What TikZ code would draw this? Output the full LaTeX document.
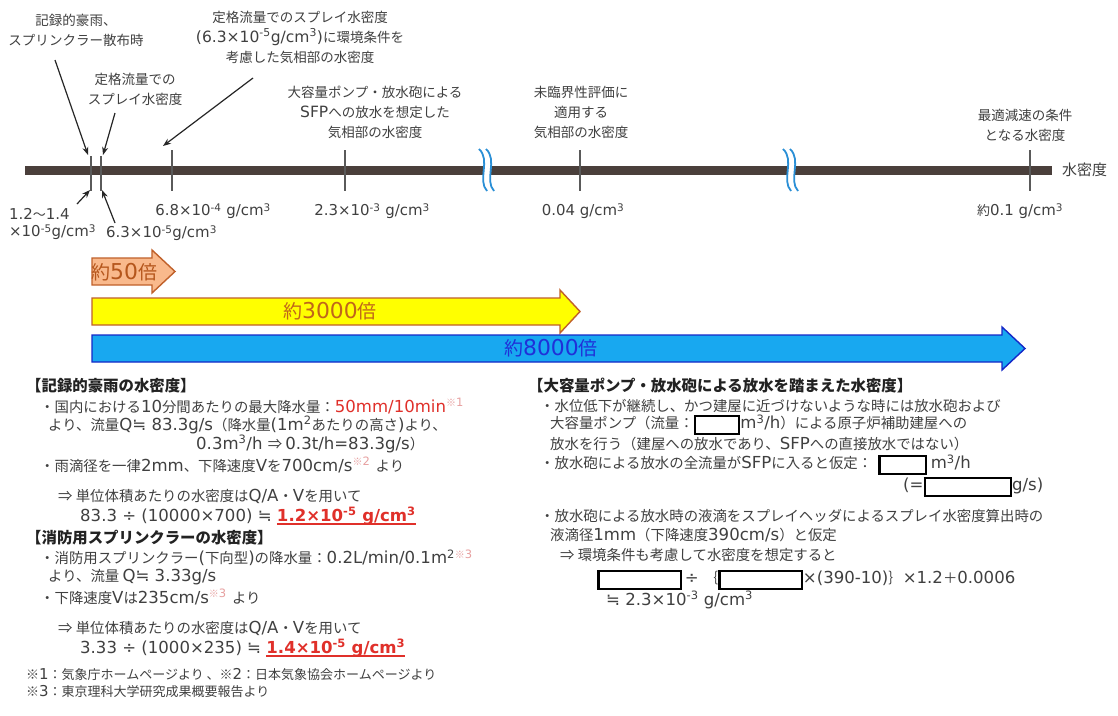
\documentclass[tikz,border=0pt]{standalone}
\usepackage{fontspec}
\setmainfont{DejaVu Sans}[Scale=1.15]
\newfontfamily\cjkfam{Noto Sans CJK JP}
\newfontfamily\latfam{DejaVu Sans}[Scale=1.15]
\usetikzlibrary{arrows.meta}
\XeTeXinterchartokenstate=1
\newXeTeXintercharclass\CJKcls
\newcount\cjkc
\def\setcjkrange#1#2{\cjkc=#1\relax\loop\XeTeXcharclass\cjkc=\CJKcls\advance\cjkc by 1\relax\ifnum\cjkc<#2\relax\repeat}
\setcjkrange{"3000}{"3100}
\setcjkrange{"4E00}{"A000}
\setcjkrange{"FF00}{"FFF0}
\XeTeXcharclass"203B=\CJKcls
\XeTeXcharclass"21D2=\CJKcls
\XeTeXinterchartoks 0 \CJKcls = {\cjkfam}
\XeTeXinterchartoks 4095 \CJKcls = {\cjkfam}
\XeTeXinterchartoks \CJKcls 0 = {\latfam}
\XeTeXinterchartoks 4095 0 = {\latfam}
\definecolor{axisc}{HTML}{4A3F3B}
\definecolor{tickc}{HTML}{5A5A5A}
\definecolor{txt}{HTML}{404040}
\definecolor{hd}{HTML}{222222}
\definecolor{redc}{HTML}{E0302A}
\definecolor{pinkc}{HTML}{E7A0A0}
\definecolor{brk}{HTML}{2A8FD6}
\definecolor{orfill}{HTML}{F9B98C}
\definecolor{ordraw}{HTML}{C0602A}
\definecolor{ortext}{HTML}{B5561C}
\definecolor{yefill}{HTML}{FFFF00}
\definecolor{yetext}{HTML}{C0661A}
\definecolor{blfill}{HTML}{18A8F0}
\definecolor{bldraw}{HTML}{1428C8}
\definecolor{bltext}{HTML}{2030D8}
\newcommand\blankbox[1]{{\setlength{\fboxrule}{2.3pt}\setlength{\fboxsep}{0pt}\color{black}\raisebox{-4.5pt}{\fbox{\rule{0pt}{15.5pt}\hspace{#1}}}}}
\newsavebox\ulsb
\newcommand\ulred[1]{\sbox\ulsb{#1}\rlap{\rule[-3.5pt]{\wd\ulsb}{1.3pt}}\usebox\ulsb}
\newcommand\sups[1]{\textsuperscript{#1}}
\newcommand\pk[1]{{\color{pinkc}\textsuperscript{#1}}}
\tikzset{
  lab/.style={font=\fontsize{13.5}{20}\selectfont, text=txt, align=center, inner sep=0pt},
  tl/.style={font=\fontsize{13}{16}\selectfont, text=txt, inner sep=0pt},
  body/.style={font=\fontsize{14.4}{19}\selectfont, text=txt, inner sep=0pt, anchor=west},
  head/.style={font=\fontsize{15.4}{19}\selectfont\bfseries, text=hd, inner sep=0pt, anchor=west},
  foot/.style={font=\fontsize{13}{15}\selectfont, text=txt, inner sep=0pt, anchor=west},
  tickline/.style={draw=tickc, line width=1.2pt},
  ptr/.style={-{Stealth[length=8pt,width=6pt]}, line width=1.2pt, draw=black!85},
  bandor/.style={fill=orfill, draw=ordraw, line width=1.4pt, line join=miter},
  bandye/.style={fill=yefill, draw=ordraw, line width=1.4pt, line join=miter},
  bandbl/.style={fill=blfill, draw=bldraw, line width=1.4pt, line join=miter},
  brkline/.style={draw=brk, line width=1.8pt},
}
\begin{document}
\begin{tikzpicture}[x=1pt,y=-1pt]
\useasboundingbox (0,0) rectangle (1118,715);
\fill[white] (0,0) rectangle (1118,715);

% axis
\coordinate (axL) at (25,170);
\coordinate (axR) at (1052,170);
\draw[axisc, line width=9pt] (axL) -- (axR);
\node[body, font=\fontsize{15}{17}\selectfont] (axlab) at (1062,170) {水密度};

% ticks
\foreach \n/\tx/\ty in {t1/91/156, t2/101/156, t3/172/150, t4/345/150, t5/580/150, t6/1030/150} {
  \coordinate (\n top) at (\tx,\ty);
  \coordinate (\n bot) at (\tx,191);
  \draw[tickline] (\n top) -- (\n bot);
}

% breaks
\foreach \bx in {485,789} {
  \fill[white] (\bx-6,149) .. controls (\bx+6,160) and (\bx-8,180) .. (\bx+2,191) -- (\bx+9,191) .. controls (\bx-1,180) and (\bx+13,160) .. (\bx+1,149) -- cycle;
  \draw[brkline] (\bx-6,149) .. controls (\bx+6,160) and (\bx-8,180) .. (\bx+2,191);
  \draw[brkline] (\bx+1,149) .. controls (\bx+13,160) and (\bx-1,180) .. (\bx+9,191);
}

% top labels
\node[lab] (labA) at (76,30) {記録的豪雨、\\スプリンクラー散布時};
\node[lab] (labB) at (135,89) {定格流量での\\スプレイ水密度};
\node[lab] (labC) at (300,37) {定格流量でのスプレイ水密度\\(6.3×10\sups{-5}g/cm\sups{3})に環境条件を\\考慮した気相部の水密度};
\node[lab] (labD) at (375,112) {大容量ポンプ・放水砲による\\SFPへの放水を想定した\\気相部の水密度};
\node[lab] (labE) at (581,112) {未臨界性評価に\\適用する\\気相部の水密度};
\node[lab] (labF) at (1025,125) {最適減速の条件\\となる水密度};

% pointer arrows
\coordinate (pA) at (55,60);
\coordinate (pAe) at (88,155);
\coordinate (pB) at (115,113);
\coordinate (pBe) at (103,155);
\coordinate (pC) at (253,78);
\coordinate (pCe) at (163,146);
\draw[ptr] (pA) -- (pAe);
\draw[ptr] (pB) -- (pBe);
\draw[ptr] (pC) -- (pCe);

% tick labels
\node[tl] (v3) at (213,211) {6.8×10\sups{-4} g/cm\sups{3}};
\node[tl] (v4) at (372,211) {2.3×10\sups{-3} g/cm\sups{3}};
\node[tl] (v5) at (583,211) {0.04 g/cm\sups{3}};
\node[tl] (v6) at (1020,211) {約0.1 g/cm\sups{3}};
\node[tl, anchor=west] (v1a) at (9,214) {1.2〜1.4};
\node[tl, anchor=west] (v1b) at (9,232) {×10\sups{-5}g/cm\sups{3}};
\node[tl, anchor=west] (v2) at (106,233) {6.3×10\sups{-5}g/cm\sups{3}};
\coordinate (qA) at (77,204);
\coordinate (qAe) at (90,190);
\coordinate (qB) at (115,223);
\coordinate (qBe) at (102,190);
\draw[ptr] (qA) -- (qAe);
\draw[ptr] (qB) -- (qBe);

% ratio bands
\draw[bandor] (92,258) -- (152,258) -- (152,250) -- (175,271.5) -- (152,293) -- (152,285) -- (92,285) -- cycle;
\node[inner sep=0pt, anchor=west, text=ortext, font=\fontsize{19}{20}\selectfont] (b50) at (91,272) {約50倍};
\draw[bandye] (92,298) -- (560,298) -- (560,290) -- (580,311.5) -- (560,333) -- (560,325) -- (92,325) -- cycle;
\node[inner sep=0pt, text=yetext, font=\fontsize{19}{20}\selectfont] (b3000) at (330,311.5) {約3000倍};
\draw[bandbl] (92,335) -- (1002,335) -- (1002,327) -- (1025,348.5) -- (1002,370) -- (1002,362) -- (92,362) -- cycle;
\node[inner sep=0pt, text=bltext, font=\fontsize{19}{20}\selectfont] (b8000) at (551,348.5) {約8000倍};

% left text block
\node[head] (h1) at (26,386) {【記録的豪雨の水密度】};
\node[body] (l1) at (40,406) {・国内における10分間あたりの最大降水量：{\color{redc}50mm/10min}\pk{※1}};
\node[body] (l2) at (48,425) {より、流量Q≒ 83.3g/s（降水量(1m\sups{2}あたりの高さ)より、};
\node[body] (l3) at (196,444) {0.3m\sups{3}/h ⇒ 0.3t/h=83.3g/s）};
\node[body] (l4) at (40,465) {・雨滴径を一律2mm、下降速度Vを700cm/s\pk{※2} より};
\node[body] (l5) at (58,496) {⇒ 単位体積あたりの水密度はQ/A・Vを用いて};
\node[body] (l6) at (80,516) {83.3 ÷ (10000×700) ≒ {\color{redc}\bfseries\ulred{1.2×10\sups{-5} g/cm\sups{3}}}};
\node[head] (h2) at (26,538) {【消防用スプリンクラーの水密度】};
\node[body] (m1) at (40,558) {・消防用スプリンクラー(下向型)の降水量：0.2L/min/0.1m\sups{2}\pk{※3}};
\node[body] (m2) at (48,577) {より、流量 Q≒ 3.33g/s};
\node[body] (m3) at (40,597) {・下降速度Vは235cm/s\pk{※3} より};
\node[body] (m4) at (58,628) {⇒ 単位体積あたりの水密度はQ/A・Vを用いて};
\node[body] (m5) at (80,648) {3.33 ÷ (1000×235) ≒ {\color{redc}\bfseries\ulred{1.4×10\sups{-5} g/cm\sups{3}}}};
\node[foot] (f1) at (26,675) {※1：気象庁ホームページより 、※2：日本気象協会ホームページより};
\node[foot] (f2) at (26,692) {※3：東京理科大学研究成果概要報告より};

% right text block
\node[head] (rh) at (528,386) {【大容量ポンプ・放水砲による放水を踏まえた水密度】};
\node[body] (r1) at (540,406) {・水位低下が継続し、かつ建屋に近づけないような時には放水砲および};
\node[body] (r2) at (550,425) {大容量ポンプ（流量：\blankbox{42pt}m\sups{3}/h）による原子炉補助建屋への};
\node[body] (r3) at (550,444) {放水を行う（建屋への放水であり、SFPへの直接放水ではない）};
\node[body] (r4) at (540,465) {・放水砲による放水の全流量がSFPに入ると仮定：\hspace{6pt}\blankbox{44pt}\hspace{4pt}m\sups{3}/h};
\node[body] (r5) at (903,487) {(=\blankbox{84pt}g/s)};
\node[body] (r6) at (540,516) {・放水砲による放水時の液滴をスプレイヘッダによるスプレイ水密度算出時の};
\node[body] (r7) at (550,535) {液滴径1mm（下降速度390cm/s）と仮定};
\node[body] (r8) at (560,555) {⇒ 環境条件も考慮して水密度を想定すると};
\node[body] (r9) at (597,580) {\blankbox{80pt}\hspace{3pt}÷ ｛\blankbox{80pt}×(390-10)｝×1.2＋0.0006};
\node[body] (r10) at (606,600) {≒ 2.3×10\sups{-3} g/cm\sups{3}};
\end{tikzpicture}
\end{document}
